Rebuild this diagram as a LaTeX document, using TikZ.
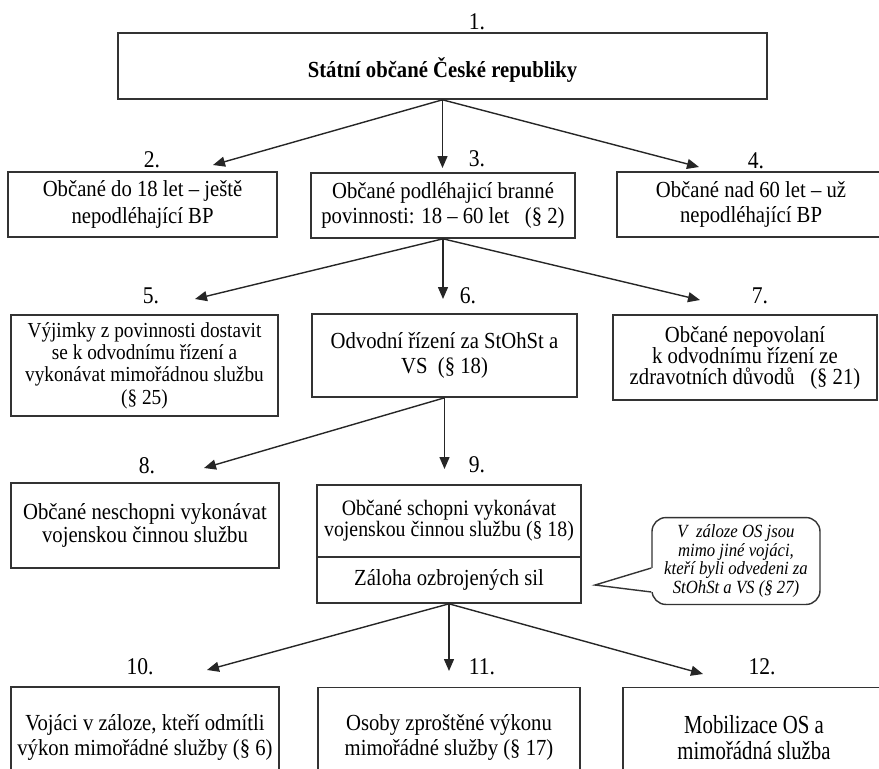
\documentclass[tikz,border=0pt]{standalone}
\usepackage{fontspec}
\setmainfont{Liberation Serif}[FakeStretch=0.9]
\newfontfamily\narrowserif{Liberation Serif}[FakeStretch=0.8]
\usetikzlibrary{arrows.meta}
\usetikzlibrary{calc}

\begin{document}
\begin{tikzpicture}[x=0.5pt,y=-0.5pt,
  box/.style={draw=black!80, line width=0.8pt, align=center, inner sep=1pt, font=\fontsize{11.5}{12.5}\selectfont},
  num/.style={font=\fontsize{12}{12}\selectfont},
  arr/.style={-{Triangle[length=6pt,width=5pt]}, line width=0.7pt, black!85},
  note/.style={draw=black!80, line width=0.7pt, rounded corners=7pt, align=center, font=\fontsize{9.3}{7.9}\selectfont\itshape}]
\useasboundingbox (0,0) rectangle (879,768);

% level 1
\node [num] (l1) at (477,22) {1.};
\node [box, minimum width=324.5pt, minimum height=33pt, text height=14pt, font=\fontsize{11.5}{12}\selectfont\bfseries] (b1) at (442.5,66) {Státní občané České republiky};

% level 2
\node [num] (l2) at (152,160) {2.};
\node [num] (l3) at (477,159) {3.};
\node [num] (l4) at (756,161) {4.};
\node [box, minimum width=134.5pt, minimum height=32.5pt, font=\fontsize{11.5}{13.5}\selectfont] (b2) at (142.5,204.5) {Občané do 18 let -- ještě\\ nepodléhající BP};
\node [box, minimum width=132pt, minimum height=32.5pt] (b3) at (443,205.5) {Občané podléhajicí branné\\ povinnosti: 18 -- 60 let~~~(§ 2)};
\node [box, minimum width=134pt, minimum height=32.5pt] (b4) at (751,204.5) {Občané nad 60 let -- už\\ nepodléhající BP};
\coordinate (t2) at (213,165);
\coordinate (t3) at (442.5,168);
\coordinate (t4) at (699,167);
\draw [arr] (b1.south) -- (t2);
\draw [arr] (b1.south) -- (t3);
\draw [arr] (b1.south) -- (t4);

% level 3
\node [num] (l5) at (151,296) {5.};
\node [num] (l6) at (468,296) {6.};
\node [num] (l7) at (760,296) {7.};
\node [box, minimum width=133.5pt, minimum height=50.5pt, font=\fontsize{10.7}{11.2}\selectfont] (b5) at (144.5,365.5) {Výjimky z povinnosti dostavit\\ se k odvodnímu řízení a\\ vykonávat mimořádnou službu\\ (§ 25)};
\node [box, minimum width=132.5pt, minimum height=41.5pt] (b6) at (444.5,355.5) {Odvodní řízení za StOhSt a\\ VS~~(§ 18)};
\node [box, minimum width=132pt, minimum height=42.5pt, font=\fontsize{11.5}{10.5}\selectfont] (b7) at (745,357.5) {Občané nepovolaní\\ k odvodnímu řízení ze\\ zdravotních důvodů~~~(§ 21)};
\coordinate (t5) at (195,299);
\coordinate (t6) at (443,299);
\coordinate (t7) at (700,300);
\draw [arr] (b3.south) -- (t5);
\draw [arr] (b3.south) -- (t6);
\draw [arr] (b3.south) -- (t7);

% level 4
\node [num] (l8) at (147,466) {8.};
\node [num] (l9) at (477,465) {9.};
\node [box, minimum width=134pt, minimum height=42.5pt, font=\fontsize{11.5}{10}\selectfont] (b8) at (145,525.5) {Občané neschopni vykonávat\\ vojenskou činnou službu};
\node [box, minimum width=132pt, minimum height=36pt, font=\fontsize{11}{10.5}\selectfont] (b9a) at (449,521) {Občané schopni vykonávat\\ vojenskou činnou službu (§ 18)};
\node [box, minimum width=132pt, minimum height=23pt] (b9b) at (449,580) {Záloha ozbrojených sil};
\coordinate (t8) at (204,468);
\coordinate (t9) at (444.5,469);
\draw [arr] (b6.south) -- (t8);
\draw [arr] (b6.south) -- (t9);

% callout
\node [note, minimum width=84pt, minimum height=43pt] (note) at (736,561) {V\ \ záloze OS jsou\\ mimo jiné vojáci,\\ kteří byli odvedeni za\\ StOhSt a VS (§ 27)};
\coordinate (ntip) at (595,585);
\fill [white] ($(note.west)+(-3,7)$) rectangle ($(note.west)+(3,31)$);
\draw [black!80, line width=0.7pt] ($(note.west)+(0,7)$) -- (ntip) -- ($(note.west)+(0,31)$);

% level 5
\node [num] (l10) at (140,667) {10.};
\node [num] (l11) at (482,667) {11.};
\node [num] (l12) at (762,667) {12.};
\node [box, minimum width=134pt, minimum height=50pt] (b10) at (145,737) {Vojáci v záloze, kteří odmítli\\ výkon mimořádné služby (§ 6)};
\node [box, minimum width=131pt, minimum height=50pt] (b11) at (449,737.5) {Osoby zproštěné výkonu\\ mimořádné služby (§ 17)};
\node [box, minimum width=131pt, minimum height=50pt, font=\fontsize{13}{13}\selectfont\narrowserif] (b12) at (754,737.5) {Mobilizace OS a\\ mimořádná služba};
\coordinate (t10) at (207,670);
\coordinate (t11) at (449,671);
\coordinate (t12) at (703,674);
\draw [arr] (b9b.south) -- (t10);
\draw [arr] (b9b.south) -- (t11);
\draw [arr] (b9b.south) -- (t12);

\end{tikzpicture}
\end{document}
